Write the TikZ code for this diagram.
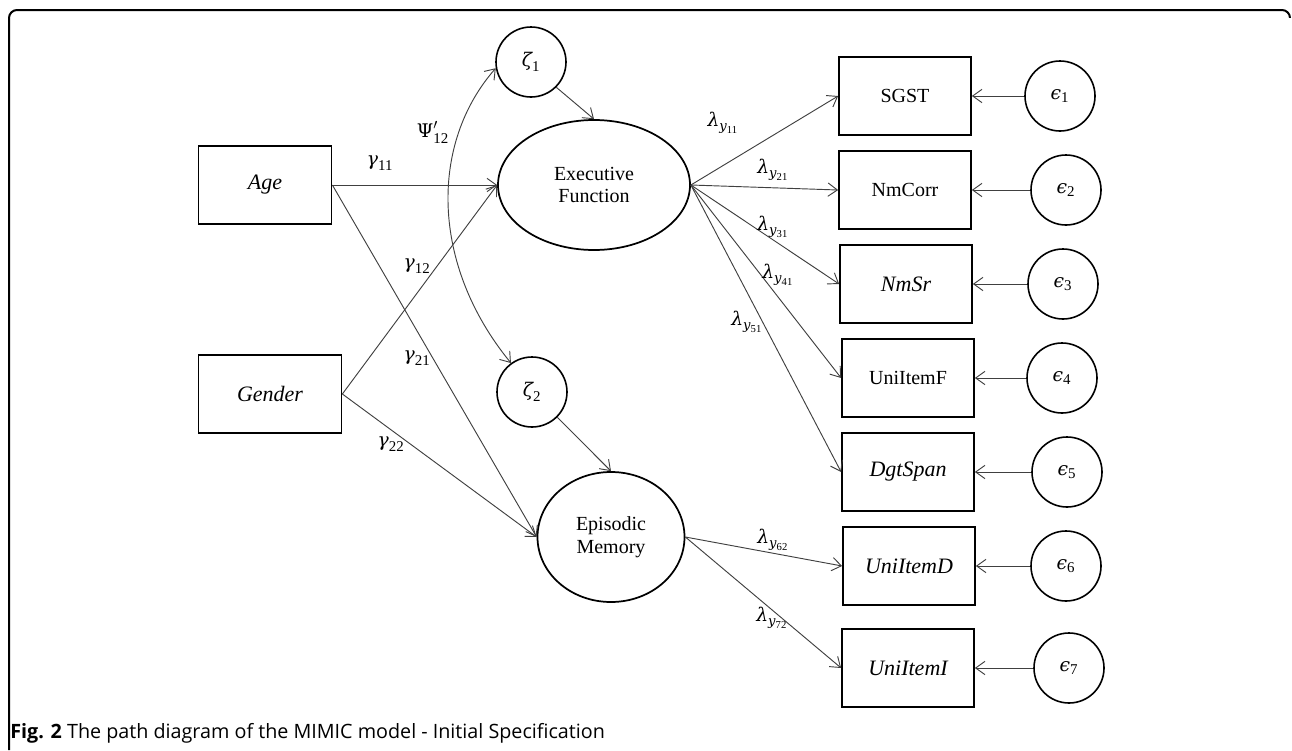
\documentclass[tikz,border=0pt]{standalone}
\usepackage{amsmath}
\usepackage{fontspec}
\setmainfont{Liberation Serif}
\newfontfamily\serifnode{Liberation Serif}
\newfontfamily\gkfont[Scale=0.88]{DejaVu Serif}
\newfontfamily\capfont{Open Sans}
\newcommand\gk[1]{\text{\gkfont\itshape #1}}
\newcommand\gu[1]{\text{\gkfont #1}}
\newcommand\dg[1]{\text{\serifnode #1}}
\usetikzlibrary{shapes.geometric,arrows.meta}
\begin{document}
\begin{tikzpicture}[x=0.75pt,y=-0.75pt,
  every node/.style={font=\serifnode\fontsize{15}{17}\selectfont},
  obs/.style={draw, line width=1.3pt, rectangle, minimum width=99pt, minimum height=59pt, inner sep=0pt},
  obsit/.style={obs, font=\serifnode\itshape\fontsize{16.5}{18}\selectfont},
  lat/.style={draw, line width=1.3pt, ellipse, inner sep=0pt, align=center},
  err/.style={draw, line width=1.2pt, circle, minimum size=52.5pt, inner sep=0pt, font=\fontsize{16}{18}\selectfont},
  conn/.style={draw=black!75, line width=0.7pt, -{Straight Barb[length=7pt,width=10pt]}},
  lab/.style={inner sep=0pt, font=\fontsize{16}{18}\selectfont}
]
\useasboundingbox (0,0) rectangle (1292,750);
% frame
\draw[line width=1.5pt, rounded corners=6pt] (9,750) -- (9,10) -- (1290,10) -- (1290,30);
\fill[white] (1280,18) rectangle (1292,40);

% exogenous
\node[obsit, minimum width=99.75pt] (age) at (265,185) {Age};
\node[obsit, minimum width=107.25pt] (gender) at (270,394) {Gender};

% latent
\node[lat, minimum width=144pt, minimum height=97.5pt] (ef) at (594,185) {Executive\\Function};
\node[lat, minimum width=110.25pt, minimum height=97.5pt] (em) at (611,537) {Episodic\\Memory};
\node[err] (z1) at (531,62) {$\gk{ζ}_{\dg{1}}$};
\node[err] (z2) at (532,392) {$\gk{ζ}_{\dg{2}}$};

% indicators
\node[obs] (sgst) at (905,96) {SGST};
\node[obs] (nmcorr) at (905,190) {NmCorr};
\node[obsit] (nmsr) at (906,284) {NmSr};
\node[obs] (uif) at (908,378) {UniItemF};
\node[obsit] (dgt) at (908,472) {DgtSpan};
\node[obsit] (uid) at (909,566) {UniItemD};
\node[obsit] (uii) at (908,668) {UniItemI};

% errors
\node[err] (e1) at (1060,96) {$\gk{ϵ}_{\dg{1}}$};
\node[err] (e2) at (1066,190) {$\gk{ϵ}_{\dg{2}}$};
\node[err] (e3) at (1063,284) {$\gk{ϵ}_{\dg{3}}$};
\node[err] (e4) at (1062,378) {$\gk{ϵ}_{\dg{4}}$};
\node[err] (e5) at (1067,472) {$\gk{ϵ}_{\dg{5}}$};
\node[err] (e6) at (1066,566) {$\gk{ϵ}_{\dg{6}}$};
\node[err] (e7) at (1069,668) {$\gk{ϵ}_{\dg{7}}$};

% structural paths
\draw[conn] (age.east) -- (ef.west);
\draw[conn] (gender.east) -- (ef.west);
\draw[conn] (age.east) -- (em.west);
\draw[conn] (gender.east) -- (em.west);
\draw[conn] (z1.-45) -- (ef.north);
\draw[conn] (z2.-45) -- (em.north);
\draw[draw=black!75, line width=0.7pt, {Straight Barb[length=7pt,width=10pt]}-{Straight Barb[length=7pt,width=10pt]}]
  (z1.190) .. controls (430,143) and (430,264) .. (z2.126);

% measurement paths
\draw[conn] (ef.east) -- (sgst.west);
\draw[conn] (ef.east) -- (nmcorr.west);
\draw[conn] (ef.east) -- (nmsr.west);
\draw[conn] (ef.east) -- (uif.west);
\draw[conn] (ef.east) -- (dgt.west);
\draw[conn] (em.east) -- (uid.west);
\draw[conn] (em.east) -- (uii.west);

% error paths
\draw[conn] (e1.west) -- (sgst.east);
\draw[conn] (e2.west) -- (nmcorr.east);
\draw[conn] (e3.west) -- (nmsr.east);
\draw[conn] (e4.west) -- (uif.east);
\draw[conn] (e5.west) -- (dgt.east);
\draw[conn] (e6.west) -- (uid.east);
\draw[conn] (e7.west) -- (uii.east);

% labels
\node[lab] (lpsi) at (433,132) {$\gu{Ψ}'_{\dg{12}}$};
\node[lab] (lg11) at (380,163) {$\gk{γ}_{\dg{11}}$};
\node[lab] (lg12) at (417,266) {$\gk{γ}_{\dg{12}}$};
\node[lab] (lg21) at (417,358) {$\gk{γ}_{\dg{21}}$};
\node[lab] (lg22) at (391,444) {$\gk{γ}_{\dg{22}}$};
\node[lab] (l11) at (723,123) {$\gk{λ}_{\gk{y}_{\dg{11}}}$};
\node[lab] (l21) at (773,170) {$\gk{λ}_{\gk{y}_{\dg{21}}}$};
\node[lab] (l31) at (773,227) {$\gk{λ}_{\gk{y}_{\dg{31}}}$};
\node[lab] (l41) at (778,275) {$\gk{λ}_{\gk{y}_{\dg{41}}}$};
\node[lab] (l51) at (747,322) {$\gk{λ}_{\gk{y}_{\dg{51}}}$};
\node[lab] (l62) at (773,540) {$\gk{λ}_{\gk{y}_{\dg{62}}}$};
\node[lab] (l72) at (772,618) {$\gk{λ}_{\gk{y}_{\dg{72}}}$};

% caption
\node[anchor=west, inner sep=0pt, font=\capfont\fontsize{14.8}{17}\selectfont] (cap) at (10,733)
  {\textbf{Fig. 2} The path diagram of the MIMIC model - Initial Specification};
\end{tikzpicture}
\end{document}
